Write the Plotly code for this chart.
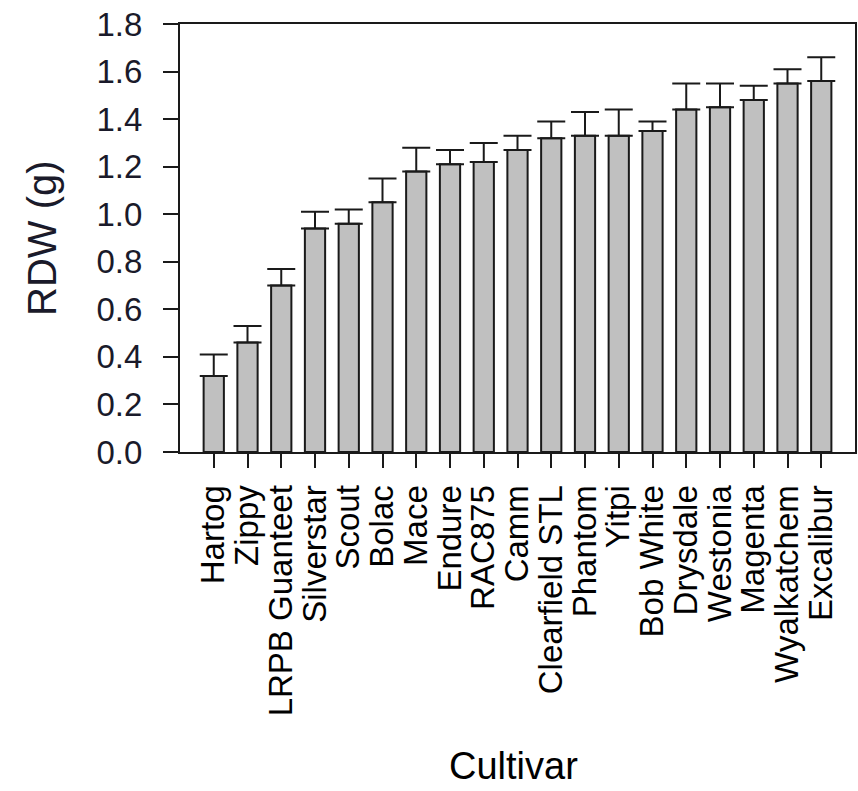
import plotly.graph_objects as go

cultivars = ["Hartog", "Zippy", "LRPB Guanteet", "Silverstar", "Scout", "Bolac", "Mace",
             "Endure", "RAC875", "Camm", "Clearfield STL", "Phantom", "Yitpi", "Bob White",
             "Drysdale", "Westonia", "Magenta", "Wyalkatchem", "Excalibur"]
rdw = [0.32, 0.46, 0.70, 0.94, 0.96, 1.05, 1.18, 1.21, 1.22, 1.27, 1.32, 1.33, 1.33, 1.35,
       1.44, 1.45, 1.48, 1.55, 1.56]
se = [0.09, 0.07, 0.07, 0.07, 0.06, 0.10, 0.10, 0.06, 0.08, 0.06, 0.07, 0.10, 0.11, 0.04,
      0.11, 0.10, 0.06, 0.06, 0.10]
y_ticks = [0.0, 0.2, 0.4, 0.6, 0.8, 1.0, 1.2, 1.4, 1.6, 1.8]

FONT = "Arial, Liberation Sans, sans-serif"
LINE = "#1a1a1a"

fig = go.Figure(go.Bar(
    x=list(range(len(cultivars))),
    y=rdw,
    width=0.6,
    marker=dict(color="#c0c0c0", line=dict(color=LINE, width=2)),
    error_y=dict(type="data", array=se, symmetric=False, arrayminus=[0] * len(se),
                 color=LINE, thickness=2, width=14),
))

fig.update_layout(
    width=858, height=791,
    margin=dict(l=180, r=1, t=24, b=339),
    paper_bgcolor="white", plot_bgcolor="white",
    showlegend=False,
    font=dict(family=FONT, color="black"),
    xaxis=dict(
        range=[-1, 19],
        tickmode="array", tickvals=list(range(len(cultivars))), ticktext=cultivars,
        tickangle=-90, tickfont=dict(size=33, family=FONT, color="black"),
        ticks="outside", ticklen=14, tickwidth=2, tickcolor=LINE,
        showline=True, linecolor=LINE, linewidth=2, mirror=True,
        showgrid=False, zeroline=False, ticklabelstandoff=4,
    ),
    yaxis=dict(
        range=[0, 1.8],
        tickmode="array", tickvals=y_ticks, ticktext=[f"{v:.1f}" for v in y_ticks],
        tickfont=dict(size=33, family=FONT, color="#1a1a2a"),
        ticks="outside", ticklen=15, tickwidth=2, tickcolor=LINE,
        showline=True, linecolor=LINE, linewidth=2, mirror=True,
        showgrid=False, zeroline=False, ticklabelstandoff=14,
    ),
    annotations=[
        dict(text="RDW (g)", xref="paper", yref="paper", x=-0.2045, y=0.5,
             xanchor="center", yanchor="middle", textangle=-90, showarrow=False,
             font=dict(size=40, family=FONT, color="#1a1a2a")),
        dict(text="Cultivar", xref="paper", yref="paper", x=0.494, y=-0.734,
             xanchor="center", yanchor="middle", showarrow=False,
             font=dict(size=38, family=FONT, color="black")),
    ],
)

fig.write_html("out.html")
